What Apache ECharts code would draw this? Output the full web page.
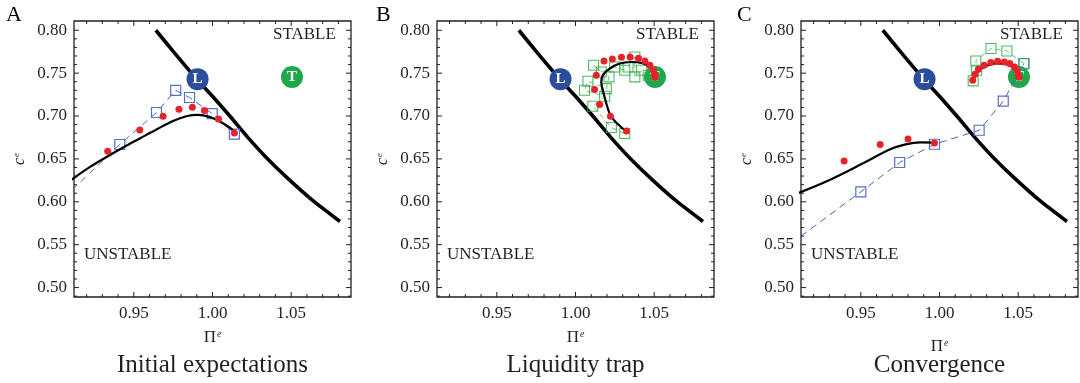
<!DOCTYPE html>
<html>
<head>
<meta charset="utf-8">
<script src="https://cdn.jsdelivr.net/npm/echarts@6/dist/echarts.min.js"></script>
<style>
  html, body { margin: 0; padding: 0; background: #fff; }
  #chart { width: 1080px; height: 383px; }
</style>
</head>
<body>
<div id="chart"></div>
<script>
// axis ticks
const xMajor = [0.95, 1.00, 1.05]
const xMinor = [0.92, 0.93, 0.94, 0.96, 0.97, 0.98, 0.99, 1.01, 1.02, 1.03, 1.04, 1.06, 1.07, 1.08]
const yMajor = [0.50, 0.55, 0.60, 0.65, 0.70, 0.75, 0.80]
const yMinor = [0.49, 0.51, 0.52, 0.53, 0.54, 0.56, 0.57, 0.58, 0.59, 0.61, 0.62, 0.63, 0.64,
  0.66, 0.67, 0.68, 0.69, 0.71, 0.72, 0.73, 0.74, 0.76, 0.77, 0.78, 0.79]

const panelLetters = ['A', 'B', 'C']
const panelTitles = ['Initial expectations', 'Liquidity trap', 'Convergence']

// stability boundary (same in every panel)
const boundary = [[0.964, 0.800], [0.977, 0.771], [0.990, 0.743], [1.001, 0.721], [1.011, 0.700],
  [1.022, 0.676], [1.034, 0.652], [1.048, 0.627], [1.064, 0.601], [1.081, 0.577]]

// equilibria
const eqNames = ['L', 'T']
const eqPoints = [[0.9905, 0.743], [1.0505, 0.7456]]

// panel A
const pathA = [[0.9106, 0.626], [0.9222, 0.6407], [0.9327, 0.6523], [0.9432, 0.6633], [0.9538, 0.6738],
  [0.9644, 0.6843], [0.9749, 0.6943], [0.9834, 0.6998], [0.9907, 0.7013], [0.9981, 0.699],
  [1.0044, 0.6939], [1.0108, 0.6866], [1.015, 0.6803]]
const dotsA = [[0.9334, 0.659], [0.9538, 0.6838], [0.9686, 0.6998], [0.9787, 0.7079], [0.9872, 0.7103],
  [0.9949, 0.7064], [1.0038, 0.6966], [1.0139, 0.6803]]
const squaresA = [[0.9106, 0.6135], [0.9411, 0.6668], [0.9644, 0.7041], [0.9766, 0.730], [0.9854, 0.7216],
  [0.9998, 0.7029], [1.0139, 0.6788]]

// panel B
const pathB = [[1.0313, 0.6834], [1.0228, 0.699], [1.0196, 0.7146], [1.0174, 0.730], [1.0164, 0.7398],
  [1.0174, 0.7476], [1.0217, 0.7553], [1.0281, 0.7612], [1.0356, 0.763], [1.042, 0.7619],
  [1.0473, 0.7572], [1.0505, 0.7495]]
const dotsB = [[1.0324, 0.6826], [1.0222, 0.6998], [1.0153, 0.7134], [1.0121, 0.7309], [1.0132, 0.7476],
  [1.0181, 0.7642], [1.0234, 0.7666], [1.0292, 0.7685], [1.0347, 0.7689], [1.040, 0.7674],
  [1.0441, 0.7642], [1.0473, 0.7592], [1.0494, 0.7534], [1.0504, 0.7487], [1.0506, 0.7449]]
const squaresB = [[1.0313, 0.6796], [1.0228, 0.6866], [1.011, 0.7114], [1.0185, 0.7231], [1.0057, 0.730],
  [1.0079, 0.7405], [1.0196, 0.732], [1.0213, 0.7456], [1.0115, 0.7592], [1.0164, 0.7514],
  [1.0249, 0.7572], [1.0313, 0.7534], [1.0334, 0.7572], [1.0377, 0.7689], [1.0377, 0.7456],
  [1.042, 0.7534], [1.0462, 0.7476], [1.050, 0.7505]]

// panel C
const pathC1 = [[0.9105, 0.6104], [0.9298, 0.6252], [0.9511, 0.6446], [0.9683, 0.661], [0.9785, 0.667],
  [0.988, 0.6692], [0.9965, 0.669]]
const pathC2 = [[1.0217, 0.7435], [1.0247, 0.752], [1.029, 0.758], [1.0362, 0.7615], [1.043, 0.7602],
  [1.048, 0.7545], [1.0505, 0.7476]]
const dotsC = [[0.9394, 0.6477], [0.9623, 0.6668], [0.980, 0.6733], [0.9968, 0.6687],
  [1.0211, 0.7417], [1.0226, 0.7487], [1.0247, 0.7545], [1.0283, 0.7592], [1.0326, 0.7623],
  [1.0369, 0.7639], [1.0412, 0.763], [1.0446, 0.7612], [1.0477, 0.7572], [1.0494, 0.7526],
  [1.050, 0.7476], [1.0505, 0.7452]]
const squaresC = [[0.912, 0.560], [0.950, 0.6116], [0.9747, 0.6458], [0.9968, 0.6671], [1.0252, 0.6834],
  [1.0405, 0.7173], [1.0536, 0.7612]]
const greenC = [[1.0214, 0.741], [1.0236, 0.7534], [1.0231, 0.7642], [1.0327, 0.7787], [1.0428, 0.7759],
  [1.0536, 0.7612]]

const FONT = '"Liberation Serif", "DejaVu Serif", serif'
const INK = '#231f20'
const X_MIN = 0.912
const X_MAX = 1.088
const Y_MIN = 0.489
const Y_MAX = 0.8108

const gridLefts = [74, 437, 801]
const gridTop = 21
const gridW = 277
const gridH = 276
const piGaps = [32, 32, 41]

// data units per pixel, used to give ticks a pixel length
const DX = (X_MAX - X_MIN) / gridW
const DY = (Y_MAX - Y_MIN) / gridH

const blueSq = {
  symbol: 'rect',
  symbolSize: 10,
  itemStyle: { color: 'rgba(0,0,0,0)', borderColor: '#5670c4', borderWidth: 1.2 },
  lineStyle: { color: '#4a63bd', width: 1, type: [7, 5] }
}
const greenSq = {
  symbol: 'rect',
  symbolSize: 10,
  itemStyle: { color: 'rgba(0,0,0,0)', borderColor: 'rgba(50,170,75,0.85)', borderWidth: 1.1 },
  lineStyle: { color: 'rgba(50,170,75,0.8)', width: 0.9, type: [5, 4] }
}

const chart = echarts.init(document.getElementById('chart'))

const grid = []
const xAxis = []
const yAxis = []
const series = []
const graphic = []

// one short two-point line per tick, pointing into the plot
function tickLine (p, from, to) {
  return {
    type: 'line',
    xAxisIndex: p,
    yAxisIndex: p,
    data: [from, to],
    symbol: 'none',
    silent: true,
    clip: false,
    lineStyle: { color: INK, width: 1 },
    z: 7
  }
}

function addTicks (p) {
  [[xMajor, 5], [xMinor, 3]].forEach(([vals, len]) => {
    vals.forEach((v) => {
      series.push(tickLine(p, [v, Y_MIN], [v, Y_MIN + len * DY]))
      series.push(tickLine(p, [v, Y_MAX], [v, Y_MAX - len * DY]))
    })
  });
  [[yMajor, 5], [yMinor, 3]].forEach(([vals, len]) => {
    vals.forEach((v) => {
      series.push(tickLine(p, [X_MIN, v], [X_MIN + len * DX, v]))
      series.push(tickLine(p, [X_MAX, v], [X_MAX - len * DX, v]))
    })
  })
}

gridLefts.forEach((left, p) => {
  grid.push({
    left: left,
    top: gridTop,
    width: gridW,
    height: gridH,
    show: true,
    borderColor: INK,
    borderWidth: 1.3,
    backgroundColor: 'rgba(0,0,0,0)'
  })

  xAxis.push({
    gridIndex: p,
    type: 'value',
    min: X_MIN,
    max: X_MAX,
    axisLine: { show: false },
    axisTick: { show: false },
    splitLine: { show: false },
    axisLabel: {
      customValues: xMajor,
      formatter: (v) => v.toFixed(2),
      fontFamily: FONT,
      fontSize: 17,
      color: INK,
      margin: 8
    },
    name: '{a|Π}{b|e}',
    nameLocation: 'middle',
    nameGap: piGaps[p],
    nameTextStyle: {
      rich: {
        a: { fontFamily: FONT, fontSize: 17, color: INK },
        b: { fontFamily: FONT, fontSize: 10, fontStyle: 'italic', color: INK, padding: [0, 0, 8, 1] }
      }
    }
  })

  yAxis.push({
    gridIndex: p,
    type: 'value',
    min: Y_MIN,
    max: Y_MAX,
    axisLine: { show: false },
    axisTick: { show: false },
    splitLine: { show: false },
    axisLabel: {
      customValues: yMajor,
      formatter: (v) => v.toFixed(2),
      fontFamily: FONT,
      fontSize: 17,
      color: INK,
      margin: 7
    },
    name: '{a|c}{b|e}',
    nameLocation: 'middle',
    nameGap: 46,
    nameTextStyle: {
      rich: {
        a: { fontFamily: FONT, fontSize: 16, fontStyle: 'italic', color: INK },
        b: { fontFamily: FONT, fontSize: 9, fontStyle: 'italic', color: INK, padding: [0, 0, 7, 1] }
      }
    }
  })

  addTicks(p)

  series.push({
    type: 'line',
    xAxisIndex: p,
    yAxisIndex: p,
    data: boundary,
    symbol: 'none',
    smooth: 0.15,
    lineStyle: { color: '#000', width: 3.6 },
    z: 2
  })

  series.push({
    type: 'scatter',
    xAxisIndex: p,
    yAxisIndex: p,
    data: eqPoints.map((pt, i) => ({
      value: pt,
      name: eqNames[i],
      itemStyle: { color: i === 0 ? '#2c4d9c' : '#1ea84a', opacity: 1 }
    })),
    symbolSize: 22,
    label: {
      show: true,
      position: 'inside',
      formatter: (d) => d.name,
      color: '#fff',
      fontFamily: FONT,
      fontWeight: 'bold',
      fontSize: 15
    },
    z: 3
  })

  // regions
  graphic.push({
    type: 'text',
    left: left + gridW - 14 - 64,
    top: 26,
    style: { text: 'STABLE', fontFamily: FONT, fontSize: 17, fill: INK }
  })
  graphic.push({
    type: 'text',
    left: left + 10,
    top: 246,
    style: { text: 'UNSTABLE', fontFamily: FONT, fontSize: 17, fill: INK }
  })
  graphic.push({
    type: 'text',
    left: [6, 376, 737][p],
    top: 4,
    style: { text: panelLetters[p], fontFamily: FONT, fontSize: 22, fill: '#000' }
  })
  graphic.push({
    type: 'text',
    x: left + gridW / 2,
    y: 365,
    style: {
      text: panelTitles[p],
      fontFamily: FONT,
      fontSize: 25,
      fill: INK,
      align: 'center',
      verticalAlign: 'middle'
    }
  })
})

function lineSeries (p, data, style, z) {
  return Object.assign({
    type: 'line',
    xAxisIndex: p,
    yAxisIndex: p,
    data: data,
    z: z
  }, style)
}

function modelPath (p, data) {
  return lineSeries(p, data, {
    symbol: 'none',
    smooth: 0.35,
    lineStyle: { color: '#000', width: 2.2 }
  }, 5)
}

function redDots (p, data) {
  return {
    type: 'scatter',
    xAxisIndex: p,
    yAxisIndex: p,
    data: data,
    symbolSize: 7,
    itemStyle: { color: '#e8222b', opacity: 1 },
    z: 6
  }
}

// panel A
series.push(lineSeries(0, squaresA, Object.assign({}, blueSq, {
  data: squaresA.map((pt, i) => i === 0 ? { value: pt, symbol: 'none' } : pt)
}), 4))
series.push(modelPath(0, pathA))
series.push(redDots(0, dotsA))

// panel B
series.push(lineSeries(1, squaresB, greenSq, 4))
series.push(modelPath(1, pathB))
series.push(redDots(1, dotsB))

// panel C
series.push(lineSeries(2, squaresC, Object.assign({}, blueSq, {
  data: squaresC.map((pt, i) => i === 0 ? { value: pt, symbol: 'none' } : pt)
}), 4))
series.push(lineSeries(2, greenC, greenSq, 4))
series.push(modelPath(2, pathC1))
series.push(modelPath(2, pathC2))
series.push(redDots(2, dotsC))

chart.setOption({
  animation: false,
  backgroundColor: '#fff',
  grid,
  xAxis,
  yAxis,
  series,
  graphic
})
</script>
</body>
</html>
